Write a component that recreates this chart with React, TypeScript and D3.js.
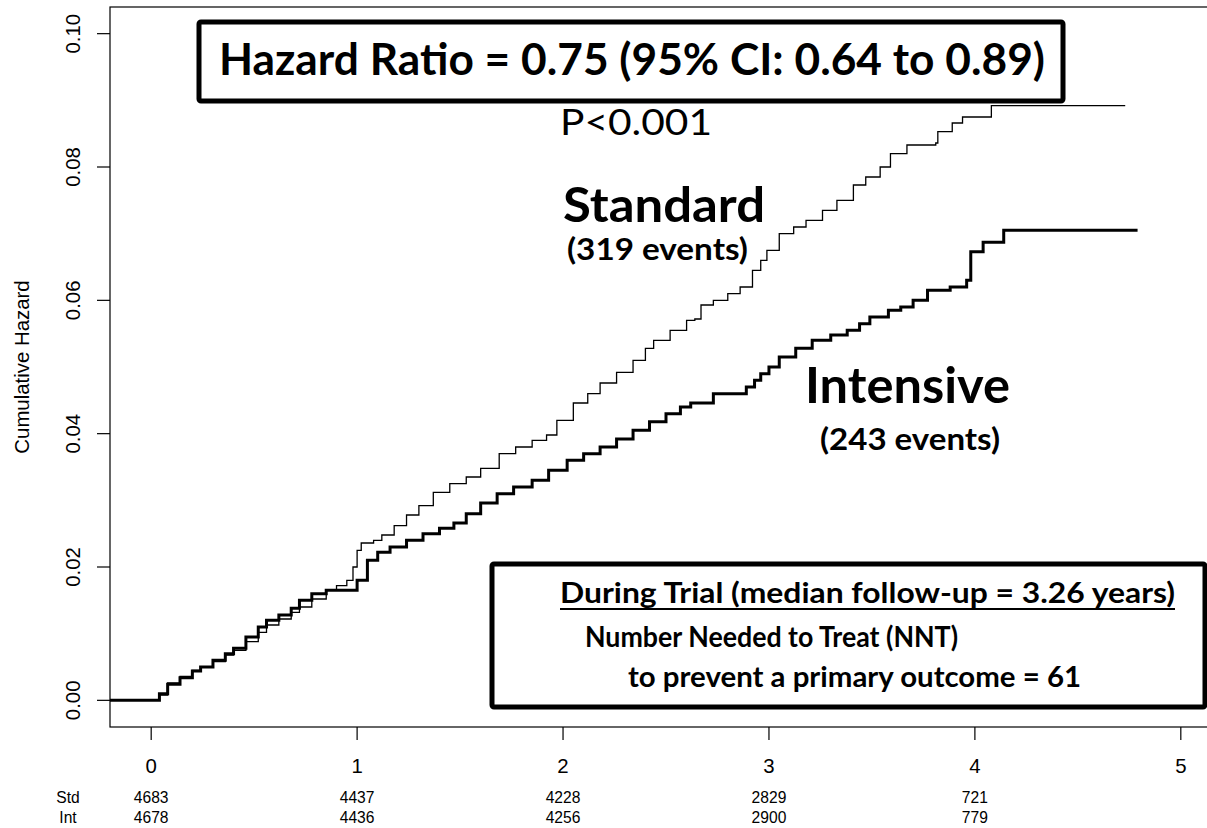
import React from "react";
import * as d3 from "d3";

// Cumulative hazard, primary outcome, by treatment arm: [years, cumulative hazard]
const standardCurve: [number, number][] = [
  [-0.2, 0], [0.02, 0], [0.04, 0.0008], [0.08, 0.0026], [0.14, 0.0036], [0.2, 0.0045],
  [0.24, 0.005], [0.3, 0.0058], [0.36, 0.0068], [0.4, 0.0075], [0.46, 0.0088],
  [0.52, 0.0102], [0.56, 0.0113], [0.62, 0.0122], [0.68, 0.0132], [0.72, 0.014],
  [0.78, 0.0152], [0.85, 0.0165], [0.9, 0.0172], [0.95, 0.018], [0.98, 0.02],
  [1.0, 0.0225], [1.02, 0.0236], [1.08, 0.024], [1.12, 0.0248], [1.18, 0.0262],
  [1.24, 0.0278], [1.3, 0.0292], [1.37, 0.0312], [1.45, 0.0325], [1.53, 0.0335],
  [1.6, 0.0348], [1.69, 0.037], [1.77, 0.038], [1.85, 0.039], [1.92, 0.0398],
  [1.97, 0.042], [2.05, 0.0446], [2.12, 0.046], [2.18, 0.0476], [2.26, 0.0492],
  [2.34, 0.051], [2.4, 0.0528], [2.44, 0.054], [2.52, 0.0555], [2.6, 0.057],
  [2.64, 0.0572], [2.67, 0.0593], [2.73, 0.06], [2.8, 0.061], [2.86, 0.062],
  [2.92, 0.0645], [2.96, 0.066], [2.99, 0.0675], [3.05, 0.07], [3.12, 0.071],
  [3.18, 0.072], [3.26, 0.0735], [3.33, 0.075], [3.41, 0.0773], [3.47, 0.0785],
  [3.54, 0.08], [3.59, 0.082], [3.67, 0.0833], [3.81, 0.0836], [3.82, 0.0853],
  [3.89, 0.0866], [3.94, 0.0875], [4.08, 0.0892], [4.73, 0.0892],
];

const intensiveCurve: [number, number][] = [
  [-0.2, 0], [0.02, 0], [0.04, 0.001], [0.08, 0.0024], [0.14, 0.0034], [0.2, 0.0044],
  [0.24, 0.005], [0.3, 0.006], [0.36, 0.007], [0.4, 0.0078], [0.46, 0.0095],
  [0.52, 0.011], [0.56, 0.012], [0.62, 0.0128], [0.68, 0.0138], [0.72, 0.015],
  [0.78, 0.016], [0.85, 0.0165], [0.97, 0.0165], [1.0, 0.018], [1.05, 0.021],
  [1.1, 0.0222], [1.16, 0.023], [1.24, 0.024], [1.32, 0.025], [1.4, 0.0258],
  [1.47, 0.0266], [1.53, 0.028], [1.6, 0.0296], [1.68, 0.031], [1.76, 0.032],
  [1.85, 0.033], [1.93, 0.0345], [2.02, 0.036], [2.1, 0.037], [2.18, 0.038],
  [2.26, 0.0392], [2.34, 0.0405], [2.42, 0.0418], [2.5, 0.043], [2.57, 0.044],
  [2.62, 0.0446], [2.73, 0.046], [2.89, 0.047], [2.93, 0.048], [2.96, 0.049],
  [3.0, 0.05], [3.05, 0.0515], [3.13, 0.0528], [3.21, 0.054], [3.3, 0.0548],
  [3.38, 0.0555], [3.44, 0.0565], [3.49, 0.0575], [3.58, 0.0585], [3.64, 0.059],
  [3.7, 0.06], [3.77, 0.0615], [3.88, 0.062], [3.96, 0.063], [3.98, 0.0673],
  [4.04, 0.0687], [4.14, 0.0705], [4.79, 0.0705],
];

// Axis ticks
const xTicks = [0, 1, 2, 3, 4, 5];
const yTicks = [0, 0.02, 0.04, 0.06, 0.08, 0.1];

// Numbers at risk at each year
const riskYears = [0, 1, 2, 3, 4];
const riskStandard = [4683, 4437, 4228, 2829, 721];
const riskIntensive = [4678, 4436, 4256, 2900, 779];

const W = 1207;
const H = 828;
const plot = { left: 110, right: 1222, top: 7, bottom: 727 };

const AXIS_FONT = "'Liberation Sans', Arial, sans-serif";
const NOTE_FONT = "Lato, 'Open Sans', sans-serif";
const AXIS_SIZE = 20.4;
const RISK_SIZE = 15.6;

export default function App() {
  const x = d3.scaleLinear().domain([-0.2, 5.2]).range([plot.left, plot.right]);
  const y = d3.scaleLinear().domain([-0.004, 0.104]).range([plot.bottom, plot.top]);

  const line = d3
    .line<[number, number]>()
    .x((d) => x(d[0]))
    .y((d) => y(d[1]))
    .curve(d3.curveStepAfter);

  return (
    <svg
      width={W}
      height={H}
      style={{ position: "absolute", left: 0, top: 0, background: "#fff" }}
    >
      <rect x={0} y={0} width={W} height={H} fill="#fff" />

      {/* plot frame */}
      <rect
        x={plot.left}
        y={plot.top}
        width={plot.right - plot.left}
        height={plot.bottom - plot.top}
        fill="none"
        stroke="#000"
        strokeWidth={1.2}
      />

      {/* y axis */}
      {yTicks.map((t) => (
        <g key={"y" + t}>
          <line x1={97} x2={plot.left} y1={y(t)} y2={y(t)} stroke="#000" strokeWidth={1.2} />
          <text
            transform={`translate(80,${y(t)}) rotate(-90)`}
            textAnchor="middle"
            fontFamily={AXIS_FONT}
            fontSize={AXIS_SIZE}
            fill="#000"
          >
            {t.toFixed(2)}
          </text>
        </g>
      ))}
      <text
        transform={`translate(29,367) rotate(-90)`}
        textAnchor="middle"
        fontFamily={AXIS_FONT}
        fontSize={AXIS_SIZE}
        fill="#000"
      >
        Cumulative Hazard
      </text>

      {/* x axis */}
      {xTicks.map((t) => (
        <g key={"x" + t}>
          <line x1={x(t)} x2={x(t)} y1={plot.bottom} y2={740} stroke="#000" strokeWidth={1.2} />
          <text
            x={x(t)}
            y={773}
            textAnchor="middle"
            fontFamily={AXIS_FONT}
            fontSize={AXIS_SIZE}
            fill="#000"
          >
            {t}
          </text>
        </g>
      ))}

      {/* numbers at risk */}
      <text x={68} y={803} textAnchor="middle" fontFamily={AXIS_FONT} fontSize={RISK_SIZE}>
        Std
      </text>
      <text x={68} y={823} textAnchor="middle" fontFamily={AXIS_FONT} fontSize={RISK_SIZE}>
        Int
      </text>
      {riskYears.map((t, i) => (
        <g key={"r" + t}>
          <text x={x(t)} y={803} textAnchor="middle" fontFamily={AXIS_FONT} fontSize={RISK_SIZE}>
            {riskStandard[i]}
          </text>
          <text x={x(t)} y={823} textAnchor="middle" fontFamily={AXIS_FONT} fontSize={RISK_SIZE}>
            {riskIntensive[i]}
          </text>
        </g>
      ))}

      {/* curves */}
      <path d={line(standardCurve) ?? ""} fill="none" stroke="#000" strokeWidth={1.3} />
      <path d={line(intensiveCurve) ?? ""} fill="none" stroke="#000" strokeWidth={3} />

      {/* hazard ratio box */}
      <rect x={199} y={22} width={864} height={79} fill="#fff" stroke="#000" strokeWidth={5} rx={2} />
      <text
        x={219}
        y={75}
        fontFamily={NOTE_FONT}
        fontWeight={700}
        fontSize={44}
        textLength={826}
        lengthAdjust="spacingAndGlyphs"
      >
        Hazard Ratio = 0.75 (95% CI: 0.64 to 0.89)
      </text>
      <text x={560} y={135} fontFamily={NOTE_FONT} fontSize={37} textLength={152} lengthAdjust="spacingAndGlyphs">
        P&lt;0.001
      </text>

      {/* arm labels */}
      <text x={563} y={222} fontFamily={NOTE_FONT} fontWeight={700} fontSize={48} textLength={202} lengthAdjust="spacingAndGlyphs">
        Standard
      </text>
      <text x={567} y={260} fontFamily={NOTE_FONT} fontWeight={700} fontSize={31} textLength={181} lengthAdjust="spacingAndGlyphs">
        (319 events)
      </text>
      <text x={805} y={403} fontFamily={NOTE_FONT} fontWeight={700} fontSize={49} textLength={205} lengthAdjust="spacingAndGlyphs">
        Intensive
      </text>
      <text x={820} y={450} fontFamily={NOTE_FONT} fontWeight={700} fontSize={31} textLength={180} lengthAdjust="spacingAndGlyphs">
        (243 events)
      </text>

      {/* NNT box */}
      <rect x={492} y={564} width={713} height={143} fill="#fff" stroke="#000" strokeWidth={5} rx={2} />
      <text x={560} y={603} fontFamily={NOTE_FONT} fontWeight={700} fontSize={29} textLength={615} lengthAdjust="spacingAndGlyphs">
        During Trial (median follow-up = 3.26 years)
      </text>
      <line x1={560} x2={1175} y1={609} y2={609} stroke="#000" strokeWidth={2} />
      <text x={585} y={647} fontFamily={NOTE_FONT} fontWeight={700} fontSize={29} textLength={373} lengthAdjust="spacingAndGlyphs">
        Number Needed to Treat (NNT)
      </text>
      <text x={628} y={687} fontFamily={NOTE_FONT} fontWeight={700} fontSize={29} textLength={453} lengthAdjust="spacingAndGlyphs">
        to prevent a primary outcome = 61
      </text>
    </svg>
  );
}
